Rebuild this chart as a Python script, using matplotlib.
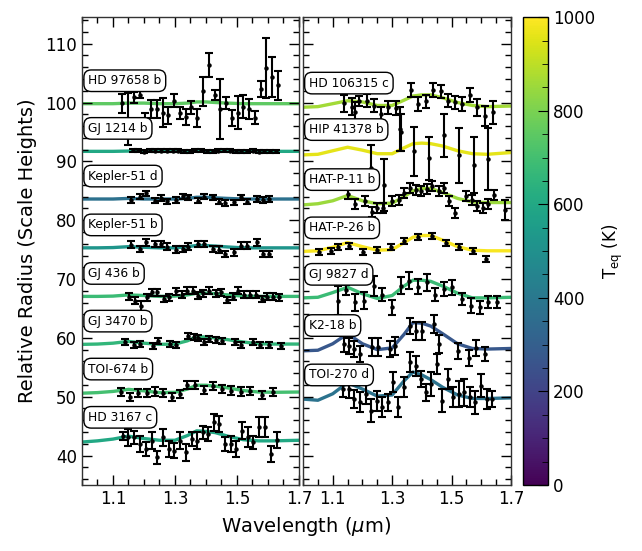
import numpy as np
import matplotlib
matplotlib.use("Agg")
import matplotlib.pyplot as plt
from matplotlib.ticker import MultipleLocator

plt.rcParams['font.family'] = ['DejaVu Sans']
plt.rcParams['mathtext.fontset'] = 'dejavusans'

# ---- model spectra grid (shared) ----
wl_model = [1.00, 1.05, 1.10, 1.15, 1.20, 1.25, 1.30, 1.34, 1.37, 1.40,
            1.43, 1.47, 1.52, 1.57, 1.62, 1.70]

# ---- left panel ----
names_left = ["HD 97658 b", "GJ 1214 b", "Kepler-51 d", "Kepler-51 b",
              "GJ 436 b", "GJ 3470 b", "TOI-674 b", "HD 3167 c"]
teq_left = [750, 600, 370, 520, 680, 660, 700, 600]

model_hd97658b = [99.8, 99.8, 99.8, 99.9, 99.9, 99.8, 99.8, 99.9, 100.1, 100.1, 100.0, 99.9, 99.8, 99.8, 99.8, 99.8]
model_gj1214b = [91.7, 91.7, 91.7, 91.75, 91.7, 91.7, 91.7, 91.7, 91.75, 91.8, 91.75, 91.7, 91.7, 91.7, 91.7, 91.7]
model_kep51d = [83.6, 83.6, 83.6, 83.7, 83.6, 83.6, 83.6, 83.7, 83.9, 83.9, 83.8, 83.7, 83.6, 83.6, 83.6, 83.6]
model_kep51b = [75.3, 75.3, 75.35, 75.5, 75.4, 75.3, 75.3, 75.5, 75.7, 75.7, 75.6, 75.45, 75.3, 75.3, 75.3, 75.3]
model_gj436b = [67.05, 67.05, 67.1, 67.3, 67.2, 67.05, 67.1, 67.3, 67.6, 67.6, 67.5, 67.3, 67.1, 67.05, 67.05, 67.05]
model_gj3470b = [58.9, 58.95, 59.1, 59.4, 59.1, 58.9, 58.95, 59.5, 60.2, 60.15, 60.0, 59.7, 59.3, 59.0, 58.95, 58.95]
model_toi674b = [50.6, 50.7, 50.9, 51.25, 51.0, 50.7, 50.75, 51.3, 51.95, 51.95, 51.8, 51.5, 51.05, 50.8, 50.75, 50.8]
model_hd3167c = [42.3, 42.5, 42.8, 43.3, 42.9, 42.6, 42.6, 43.4, 44.2, 44.1, 43.9, 43.3, 42.7, 42.5, 42.5, 42.6]

wl_hd97658b = [1.130, 1.149, 1.167, 1.186, 1.204, 1.223, 1.242, 1.260, 1.279, 1.297, 1.316, 1.335, 1.353, 1.372,
               1.390, 1.409, 1.428, 1.446, 1.465, 1.483, 1.502, 1.521, 1.539, 1.558, 1.576, 1.595, 1.614, 1.632]
rad_hd97658b = [99.9, 97.2, 100.9, 101.3, 97.2, 98.9, 98.9, 98.3, 97.8, 100.3, 98.2, 97.5, 99.2, 97.4,
                101.9, 106.4, 101.3, 98.9, 99.9, 97.4, 98.3, 99.3, 98.9, 97.4, 102.3, 105.9, 104.4, 102.9]
err_hd97658b = [1.6, 4.4, 0.9, 0.6, 1.0, 1.5, 1.5, 2.5, 1.5, 1.1, 1.0, 1.4, 1.1, 1.5,
                2.5, 2.0, 0.85, 5.1, 1.0, 1.4, 2.8, 2.0, 1.7, 1.1, 1.4, 5.1, 3.4, 2.5]

wl_gj1214b = [1.163, 1.181, 1.200, 1.218, 1.237, 1.255, 1.274, 1.292, 1.311, 1.329, 1.348, 1.366, 1.385,
              1.403, 1.422, 1.440, 1.459, 1.477, 1.496, 1.514, 1.533, 1.551, 1.570, 1.588, 1.607, 1.625]
rad_gj1214b = [91.85, 91.85, 91.65, 91.85, 91.8, 91.8, 91.8, 91.8, 91.8, 91.75, 91.75, 91.85, 91.9,
               91.7, 91.75, 91.8, 91.85, 91.8, 91.75, 91.75, 91.75, 91.8, 91.65, 91.75, 91.75, 91.75]
err_gj1214b = [0.25] * 26

wl_kep51d = [1.157, 1.187, 1.206, 1.235, 1.255, 1.275, 1.303, 1.325, 1.343, 1.375,
             1.395, 1.424, 1.443, 1.461, 1.491, 1.512, 1.533, 1.563, 1.585, 1.603]
rad_kep51d = [83.44, 84.0, 84.57, 83.32, 83.78, 83.21, 83.44, 84.06, 83.89, 83.32,
              84.0, 83.89, 83.15, 82.93, 83.04, 83.89, 83.15, 83.61, 83.44, 83.61]
err_kep51d = [0.45] * 20

wl_kep51b = [1.157, 1.187, 1.206, 1.235, 1.255, 1.275, 1.303, 1.325, 1.343, 1.375,
             1.395, 1.424, 1.443, 1.461, 1.491, 1.512, 1.533, 1.563, 1.585, 1.603]
rad_kep51b = [75.85, 75.11, 76.25, 75.96, 75.96, 75.51, 75.0, 75.11, 75.51, 75.96,
              75.96, 75.11, 75.0, 74.26, 74.55, 75.68, 75.68, 76.25, 74.26, 74.26]
err_kep51b = [0.57] * 20

wl_gj436b = [1.153, 1.171, 1.190, 1.209, 1.225, 1.243, 1.265, 1.282, 1.303, 1.322, 1.338, 1.357, 1.375, 1.391,
             1.411, 1.431, 1.448, 1.467, 1.486, 1.504, 1.523, 1.542, 1.560, 1.580, 1.598, 1.617, 1.635]
rad_gj436b = [67.02, 66.34, 65.49, 66.90, 67.75, 67.75, 66.62, 66.90, 67.92, 67.36, 68.04, 68.04, 67.19, 67.58,
              68.04, 67.58, 67.75, 66.45, 67.02, 68.04, 67.36, 67.36, 67.36, 66.62, 67.02, 67.02, 66.90]
err_gj436b = [0.57, 0.57, 0.85] + [0.57] * 24

wl_gj3470b = [1.139, 1.168, 1.187, 1.228, 1.246, 1.284, 1.303, 1.343, 1.361, 1.375,
              1.394, 1.411, 1.431, 1.451, 1.494, 1.513, 1.553, 1.574, 1.603, 1.642]
rad_gj3470b = [59.26, 58.86, 58.97, 58.69, 59.43, 58.97, 58.86, 60.28, 60.11, 59.99,
               59.26, 59.82, 59.65, 59.54, 59.26, 58.86, 59.26, 58.86, 58.86, 58.69]
err_gj3470b = [0.5] * 20

wl_toi674b = [1.125, 1.155, 1.182, 1.209, 1.235, 1.262, 1.289, 1.316, 1.340,
              1.365, 1.394, 1.422, 1.451, 1.481, 1.512, 1.542, 1.580, 1.617]
rad_toi674b = [50.76, 49.91, 50.59, 50.65, 50.88, 50.59, 49.91, 50.48, 52.01,
               52.01, 51.16, 51.78, 51.33, 51.05, 50.88, 50.93, 50.31, 50.76]
err_toi674b = [0.7] * 18

wl_hd3167c = [1.131, 1.149, 1.168, 1.187, 1.206, 1.225, 1.243, 1.262, 1.281, 1.298, 1.316, 1.334, 1.354, 1.372,
              1.389, 1.408, 1.426, 1.443, 1.461, 1.480, 1.497, 1.515, 1.534, 1.553, 1.572, 1.590, 1.609, 1.628]
rad_hd3167c = [43.40, 43.12, 43.12, 41.99, 41.14, 42.55, 39.72, 43.12, 41.14, 40.85, 42.55, 40.57, 42.84, 42.55,
               43.97, 43.69, 45.67, 45.38, 41.99, 41.99, 41.14, 44.25, 43.12, 42.27, 44.93, 44.93, 40.29, 42.67]
err_hd3167c = [0.68, 1.42, 1.13, 1.42, 1.25, 1.42, 1.13, 1.42, 1.42, 1.25, 1.42, 1.42, 1.13, 1.42,
               1.13, 1.13, 1.42, 1.42, 1.13, 1.42, 1.42, 1.42, 1.7, 1.13, 1.7, 1.7, 1.42, 1.42]

# ---- right panel ----
names_right = ["HD 106315 c", "HIP 41378 b", "HAT-P-11 b", "HAT-P-26 b",
               "GJ 9827 d", "K2-18 b", "TOI-270 d"]
teq_right = [860, 960, 850, 990, 680, 270, 380]

model_hd106315c = [99.2, 99.3, 99.8, 100.3, 100.1, 99.5, 99.5, 100.4, 101.1, 101.3, 101.3, 100.8, 100.0, 99.5, 99.3, 99.4]
model_hip41378b = [91.1, 91.2, 91.8, 92.4, 91.9, 91.3, 91.3, 92.3, 93.0, 93.1, 93.0, 92.6, 91.8, 91.3, 91.2, 91.5]
model_hatp11b = [82.6, 82.8, 83.3, 84.2, 83.3, 82.8, 82.9, 84.0, 85.0, 85.4, 85.4, 84.7, 83.7, 83.1, 83.0, 83.0]
model_hatp26b = [74.7, 74.8, 75.4, 76.2, 75.5, 74.9, 75.0, 76.2, 77.1, 77.4, 77.4, 76.6, 75.5, 74.9, 74.8, 74.8]
model_gj9827d = [66.8, 66.9, 67.7, 68.6, 67.5, 66.7, 67.2, 68.8, 69.8, 69.8, 69.6, 68.8, 67.6, 66.8, 66.8, 66.9]
model_k218b = [57.8, 57.9, 59.0, 60.7, 59.0, 58.0, 58.3, 60.6, 62.6, 62.5, 62.0, 60.7, 59.0, 58.2, 58.1, 58.2]
model_toi270d = [49.6, 49.4, 50.5, 52.4, 51.3, 50.1, 50.3, 52.7, 54.2, 53.7, 52.9, 51.6, 50.3, 49.7, 49.7, 49.8]

wl_hd106315c = [1.139, 1.164, 1.175, 1.190, 1.214, 1.239, 1.263, 1.287, 1.313, 1.329, 1.364,
                1.388, 1.414, 1.439, 1.464, 1.487, 1.512, 1.536, 1.562, 1.587, 1.611, 1.639]
rad_hd106315c = [99.86, 99.29, 98.33, 100.31, 100.31, 99.46, 98.05, 99.18, 99.07, 94.93, 102.12,
                 99.75, 100.2, 102.12, 101.9, 100.31, 100.03, 99.75, 101.28, 99.18, 97.76, 98.33]
err_hd106315c = [1.42, 1.42, 1.7, 0.85, 1.13, 1.13, 1.13, 1.13, 1.13, 3.1, 1.13,
                 1.13, 1.13, 1.13, 1.13, 1.13, 1.13, 1.13, 1.13, 1.42, 1.7, 2.0]

wl_hip41378b = [1.228, 1.274, 1.327, 1.374, 1.425, 1.475, 1.525, 1.576, 1.624]
rad_hip41378b = [88.9, 86.0, 95.5, 91.7, 90.5, 94.4, 91.0, 89.4, 90.4]
err_hip41378b = [3.8, 4.4, 3.7, 4.2, 3.7, 3.7, 4.75, 4.75, 5.35]

wl_hatp11b = [1.153, 1.175, 1.209, 1.231, 1.250, 1.268, 1.301, 1.323, 1.341, 1.360, 1.379, 1.397, 1.416,
              1.435, 1.456, 1.475, 1.492, 1.512, 1.549, 1.568, 1.587, 1.604, 1.624, 1.644, 1.680]
rad_hatp11b = [84.46, 82.76, 83.32, 81.34, 82.08, 82.08, 83.32, 83.44, 84.57, 85.48, 85.14, 85.02, 85.31,
               85.87, 85.02, 85.48, 83.32, 81.17, 84.17, 83.44, 82.47, 82.08, 82.76, 84.34, 81.74]
err_hatp11b = [0.85] * 24 + [1.7]

wl_hatp26b = [1.055, 1.094, 1.119, 1.156, 1.203, 1.248, 1.295, 1.340, 1.386, 1.433, 1.480, 1.525, 1.571, 1.616]
rad_hatp26b = [74.55, 74.72, 75.51, 75.68, 74.55, 74.94, 75.40, 76.42, 77.10, 77.38, 76.08, 75.51, 74.72, 73.42]
err_hatp26b = [0.5] * 14

wl_gj9827d = [1.119, 1.144, 1.175, 1.206, 1.239, 1.267, 1.299, 1.330, 1.358, 1.388,
              1.416, 1.444, 1.475, 1.503, 1.534, 1.565, 1.594, 1.624, 1.654]
rad_gj9827d = [66.34, 68.15, 66.05, 66.34, 68.88, 67.36, 65.20, 68.88, 69.73, 68.71,
               69.45, 67.36, 68.32, 68.6, 66.62, 65.49, 65.20, 66.05, 66.05]
err_gj9827d = [2.5, 0.85, 1.42, 1.42, 1.7, 1.13, 1.25, 1.42, 1.42, 1.25,
               1.42, 1.13, 1.13, 1.25, 1.02, 1.25, 1.13, 1.02, 1.02]

wl_k218b = [1.139, 1.156, 1.173, 1.192, 1.233, 1.251, 1.293, 1.310, 1.360,
            1.379, 1.400, 1.442, 1.459, 1.520, 1.560, 1.582, 1.611]
rad_k218b = [59.03, 58.69, 58.18, 57.33, 58.52, 58.52, 58.18, 58.69, 62.09,
             61.24, 61.24, 62.43, 59.03, 57.84, 56.65, 58.35, 57.33]
err_k218b = [1.36, 1.36, 1.36, 1.36, 1.53, 1.53, 1.36, 1.53, 1.36,
             1.53, 1.53, 1.53, 1.53, 1.36, 1.36, 1.36, 1.19]

wl_toi270d = [1.136, 1.155, 1.173, 1.192, 1.211, 1.229, 1.248, 1.267, 1.285, 1.302, 1.321, 1.341, 1.360, 1.379,
              1.397, 1.414, 1.431, 1.450, 1.469, 1.487, 1.506, 1.525, 1.543, 1.562, 1.579, 1.598, 1.618, 1.635]
rad_toi270d = [51.33, 51.33, 49.63, 49.06, 50.48, 47.65, 49.35, 48.22, 49.06, 52.46, 48.22, 51.61, 55.86, 55.29,
               53.03, 50.76, 52.18, 55.58, 49.35, 53.03, 49.91, 50.48, 50.76, 49.91, 49.06, 51.90, 49.63, 49.63]
err_toi270d = [1.42, 1.59, 1.59, 1.7, 1.7, 1.98, 1.7, 1.7, 1.42, 1.7, 1.7, 1.7, 1.7, 1.7,
               1.42, 1.42, 1.98, 1.7, 1.98, 1.7, 1.7, 2.27, 2.27, 1.7, 1.98, 1.98, 1.7, 1.42]

left_sets = [
    (model_hd97658b, wl_hd97658b, rad_hd97658b, err_hd97658b),
    (model_gj1214b, wl_gj1214b, rad_gj1214b, err_gj1214b),
    (model_kep51d, wl_kep51d, rad_kep51d, err_kep51d),
    (model_kep51b, wl_kep51b, rad_kep51b, err_kep51b),
    (model_gj436b, wl_gj436b, rad_gj436b, err_gj436b),
    (model_gj3470b, wl_gj3470b, rad_gj3470b, err_gj3470b),
    (model_toi674b, wl_toi674b, rad_toi674b, err_toi674b),
    (model_hd3167c, wl_hd3167c, rad_hd3167c, err_hd3167c),
]
right_sets = [
    (model_hd106315c, wl_hd106315c, rad_hd106315c, err_hd106315c),
    (model_hip41378b, wl_hip41378b, rad_hip41378b, err_hip41378b),
    (model_hatp11b, wl_hatp11b, rad_hatp11b, err_hatp11b),
    (model_hatp26b, wl_hatp26b, rad_hatp26b, err_hatp26b),
    (model_gj9827d, wl_gj9827d, rad_gj9827d, err_gj9827d),
    (model_k218b, wl_k218b, rad_k218b, err_k218b),
    (model_toi270d, wl_toi270d, rad_toi270d, err_toi270d),
]

cmap = plt.get_cmap('viridis')
norm = matplotlib.colors.Normalize(vmin=0, vmax=1000)

fig = plt.figure(figsize=(6.42, 5.51), dpi=100)
ax1 = fig.add_axes([0.1277, 0.1198, 0.338, 0.849])
ax2 = fig.add_axes([0.472, 0.1198, 0.324, 0.849], sharey=ax1)
cax = fig.add_axes([0.815, 0.1198, 0.039, 0.849])


def draw_panel(ax, names, teqs, sets):
    for name, teq, (model, wl, rad, err) in zip(names, teqs, sets):
        ax.plot(wl_model, model, color=cmap(norm(teq)), lw=2.4, zorder=1)
        ax.errorbar(wl, rad, yerr=err, fmt='o', color='black', ms=2.2,
                    elinewidth=1.5, capsize=2.6, capthick=1.5, zorder=2)
        ax.text(1.02, model[-1] + 3.9, name, fontsize=8.8, ha='left', va='center',
                zorder=5,
                bbox=dict(boxstyle='round,pad=0.35,rounding_size=0.6', fc='white',
                          ec='black', lw=1.0))
    ax.set_xlim(1.0, 1.7)
    ax.xaxis.set_major_locator(matplotlib.ticker.FixedLocator([1.1, 1.3, 1.5, 1.7]))
    ax.xaxis.set_minor_locator(MultipleLocator(0.05))
    ax.yaxis.set_major_locator(MultipleLocator(10))
    ax.yaxis.set_minor_locator(MultipleLocator(2))
    ax.tick_params(which='both', direction='in', top=True, right=True, labelsize=12)
    ax.tick_params(which='major', length=7, width=1)
    ax.tick_params(which='minor', length=4, width=1)
    for s in ax.spines.values():
        s.set_linewidth(1.0)
        s.set_color('#333333')


draw_panel(ax1, names_left, teq_left, left_sets)
draw_panel(ax2, names_right, teq_right, right_sets)
ax1.set_ylim(35.0, 114.5)
ax1.set_xticklabels(['1.1', '1.3', '1.5', '1.7'])
ax2.set_xticklabels(['1.1', '1.3', '1.5', '1.7'])
plt.setp(ax2.get_yticklabels(), visible=False)
ax1.set_ylabel('Relative Radius (Scale Heights)', fontsize=14, labelpad=6)
fig.text(0.477, 0.045, r'Wavelength ($\mu$m)', fontsize=14, ha='center', va='center')

sm = matplotlib.cm.ScalarMappable(norm=norm, cmap=cmap)
cb = fig.colorbar(sm, cax=cax)
cb.set_ticks([0, 200, 400, 600, 800, 1000])
cb.ax.yaxis.set_minor_locator(MultipleLocator(50))
cb.ax.tick_params(which='both', direction='in', labelsize=12)
cb.ax.tick_params(which='major', length=7)
cb.ax.tick_params(which='minor', length=4)
cb.outline.set_linewidth(1.0)
cb.set_label(r'T$_{\rm eq}$ (K)', fontsize=12)
cb.ax.yaxis.set_label_coords(3.1, 0.5)

fig.savefig('out.png', dpi=100)
